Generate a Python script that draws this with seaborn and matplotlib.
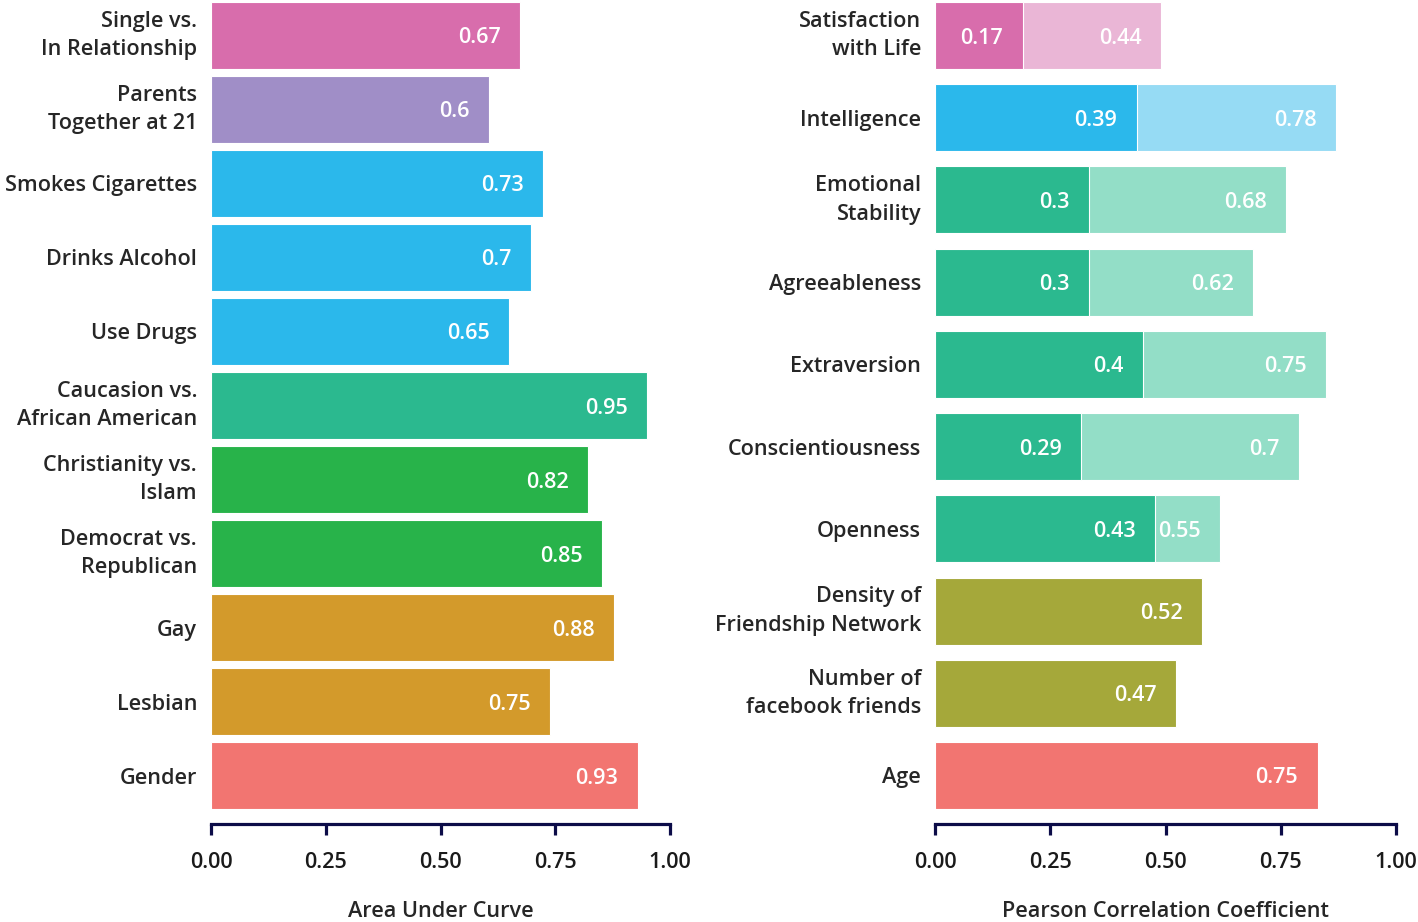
import numpy as np
import pandas as pd
import matplotlib
matplotlib.use("Agg")
import matplotlib.pyplot as plt
import seaborn as sns

# left panel: classification AUC
auc_labels = ["Single vs.\nIn Relationship", "Parents\nTogether at 21", "Smokes Cigarettes",
              "Drinks Alcohol", "Use Drugs", "Caucasion vs.\nAfrican American",
              "Christianity vs.\nIslam", "Democrat vs.\nRepublican", "Gay", "Lesbian", "Gender"]
auc_values = [0.673, 0.606, 0.723, 0.697, 0.649, 0.95, 0.821, 0.852, 0.878, 0.739, 0.93]
auc_text = ["0.67", "0.6", "0.73", "0.7", "0.65", "0.95", "0.82", "0.85", "0.88", "0.75", "0.93"]
auc_colors = ["#D86DAC", "#A08EC7", "#2BB8EB", "#2BB8EB", "#2BB8EB", "#2BB98F",
              "#28B34A", "#28B34A", "#D39A2B", "#D39A2B", "#F27571"]

# right panel: pearson correlation
cor_labels = ["Satisfaction\nwith Life", "Intelligence", "Emotional\nStability", "Agreeableness",
              "Extraversion", "Conscientiousness", "Openness", "Density of\nFriendship Network",
              "Number of\nfacebook friends", "Age"]
cor_dark = [0.19, 0.438, 0.334, 0.334, 0.451, 0.317, 0.477, 0.579, 0.523, 0.83]
cor_dark_text = ["0.17", "0.39", "0.3", "0.3", "0.4", "0.29", "0.43", "0.52", "0.47", "0.75"]
cor_light = [0.49, 0.87, 0.761, 0.69, 0.848, 0.79, 0.618, np.nan, np.nan, np.nan]
cor_light_text = ["0.44", "0.78", "0.68", "0.62", "0.75", "0.7", "0.55", "", "", ""]
cor_dark_colors = ["#D86DAC", "#2BB8EB", "#2BB98F", "#2BB98F", "#2BB98F", "#2BB98F",
                   "#2BB98F", "#A5A83A", "#A5A83A", "#F27571"]
cor_light_colors = ["#EAB6D6", "#96DBF4", "#93DEC7", "#93DEC7", "#93DEC7", "#93DEC7",
                    "#93DEC7", "#ffffff", "#ffffff", "#ffffff"]

sns.set_style("white")
plt.rcParams['font.family'] = ['Open Sans', 'DejaVu Sans']
plt.rcParams['font.weight'] = 'semibold'
plt.rcParams['axes.labelweight'] = 'semibold'
plt.rcParams['text.color'] = '#1a1a1a'

fs = 15.6
navy = "#0c0c48"

fig = plt.figure(figsize=(14.18, 9.22), dpi=100)
ax1 = fig.add_axes([211/1418, 1-809/922, 459/1418, 807/922])
ax2 = fig.add_axes([935/1418, 1-809/922, 461/1418, 807/922])


def style_axis(ax, xlabel):
    ax.set_xlim(0, 1)
    ax.set_xticks([0, 0.25, 0.5, 0.75, 1.0])
    ax.set_xticklabels(["0.00", "0.25", "0.50", "0.75", "1.00"])
    for s in ["top", "right", "left"]:
        ax.spines[s].set_visible(False)
    ax.spines["bottom"].set_position(("outward", 11))
    ax.spines["bottom"].set_color(navy)
    ax.spines["bottom"].set_linewidth(2.3)
    ax.spines["bottom"].set_capstyle("projecting")
    ax.tick_params(axis="x", bottom=True, labelbottom=True, direction="out", length=8,
                   width=2.3, color=navy, pad=12, labelsize=fs, labelcolor="#1a1a1a")
    ax.tick_params(axis="y", left=False, length=0, pad=10, labelsize=fs)
    ax.set_ylabel("")
    ax.set_xlabel(xlabel, fontsize=fs, labelpad=20)
    for t in ax.get_yticklabels():
        t.set_multialignment("right")
        t.set_linespacing(1.45)
        if "\n" in t.get_text():
            t.set_verticalalignment("center")


def label_bars(ax, vals, texts, ys):
    for v, t, y in zip(vals, texts, ys):
        if t == "" or np.isnan(v):
            continue
        ax.annotate(t, (v, y), xytext=(-14, 0), textcoords="offset points",
                    ha="right", va="center_baseline", color="white", fontsize=fs)


df1 = pd.DataFrame({"label": auc_labels, "value": auc_values})
sns.barplot(data=df1, y="label", x="value", hue="label", palette=auc_colors,
            orient="h", width=0.9, saturation=1, legend=False, ax=ax1,
            edgecolor="white", linewidth=0.8)
ax1.set_ylim(len(auc_labels) - 1 + 0.45, -0.45)
style_axis(ax1, "Area Under Curve")
label_bars(ax1, auc_values, auc_text, range(len(auc_labels)))

df2 = pd.DataFrame({"label": cor_labels, "light": cor_light, "dark": cor_dark})
sns.barplot(data=df2, y="label", x="light", hue="label", palette=cor_light_colors,
            orient="h", width=0.815, saturation=1, legend=False, ax=ax2,
            edgecolor="white", linewidth=0.8)
sns.barplot(data=df2, y="label", x="dark", hue="label", palette=cor_dark_colors,
            orient="h", width=0.815, saturation=1, legend=False, ax=ax2,
            edgecolor="white", linewidth=0.8)
ax2.set_ylim(len(cor_labels) - 1 + 0.4075, -0.4075)
style_axis(ax2, "Pearson Correlation Coefficient")
label_bars(ax2, cor_light, cor_light_text, range(len(cor_labels)))
label_bars(ax2, cor_dark, cor_dark_text, range(len(cor_labels)))

fig.savefig("out.png", dpi=100)
